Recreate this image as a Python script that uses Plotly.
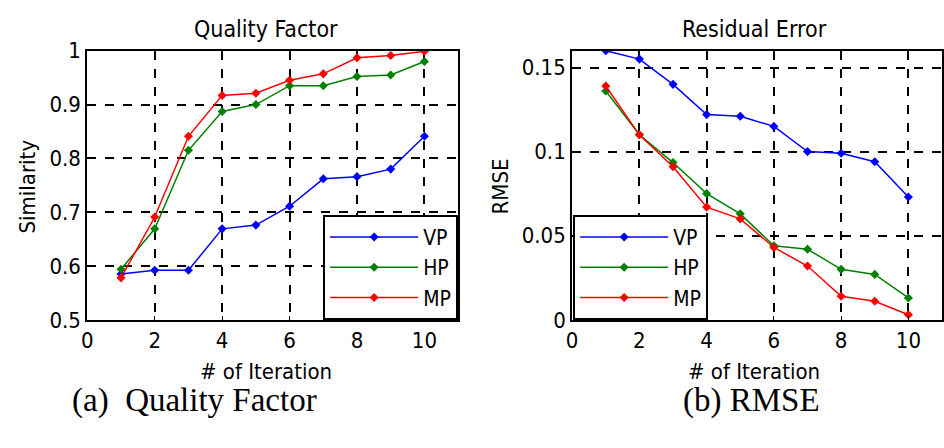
import plotly.graph_objects as go

iterations = [1, 2, 3, 4, 5, 6, 7, 8, 9, 10]
series_names = ["VP", "HP", "MP"]
series_colors = ["#0000FF", "#008000", "#FF0000"]

similarity_vp = [0.585, 0.592, 0.592, 0.669, 0.676, 0.711, 0.762, 0.766, 0.780, 0.841]
similarity_hp = [0.594, 0.669, 0.815, 0.887, 0.900, 0.935, 0.935, 0.952, 0.955, 0.980]
similarity_mp = [0.578, 0.691, 0.841, 0.917, 0.921, 0.945, 0.957, 0.987, 0.991, 0.999]

rmse_vp = [0.160, 0.155, 0.140, 0.122, 0.121, 0.115, 0.100, 0.099, 0.094, 0.073]
rmse_hp = [0.136, 0.110, 0.0935, 0.075, 0.063, 0.044, 0.042, 0.030, 0.027, 0.013]
rmse_mp = [0.139, 0.110, 0.091, 0.067, 0.060, 0.043, 0.032, 0.014, 0.011, 0.003]

x_ticks = [0, 2, 4, 6, 8, 10]
sim_ticks = [0.5, 0.6, 0.7, 0.8, 0.9, 1.0]
sim_tick_text = ["0.5", "0.6", "0.7", "0.8", "0.9", "1"]
rmse_ticks = [0, 0.05, 0.1, 0.15]
rmse_tick_text = ["0", "0.05", "0.1", "0.15"]

FONT = "DejaVu Sans Condensed, Liberation Sans Narrow, DejaVu Sans, sans-serif"
SERIF = "Liberation Serif, Times New Roman, serif"

fig = go.Figure()

for name, color, ys in zip(series_names, series_colors, [similarity_vp, similarity_hp, similarity_mp]):
    fig.add_trace(go.Scatter(x=iterations, y=ys, name=name, mode="lines+markers",
                             line=dict(color=color, width=1.5),
                             marker=dict(symbol="diamond", size=7, color=color),
                             xaxis="x", yaxis="y", legend="legend"))

for name, color, ys in zip(series_names, series_colors, [rmse_vp, rmse_hp, rmse_mp]):
    fig.add_trace(go.Scatter(x=iterations, y=ys, name=name, mode="lines+markers",
                             line=dict(color=color, width=1.5),
                             marker=dict(symbol="diamond", size=7, color=color),
                             xaxis="x2", yaxis="y2", legend="legend2"))

W, H = 944, 448
yd = [1 - 326 / H, 1 - 41 / H]

axis_common = dict(showline=True, linecolor="black", linewidth=2, mirror=True,
                   showgrid=True, gridcolor="black", griddash="dash", gridwidth=1.6,
                   zeroline=False, ticks="inside", ticklen=4, tickcolor="black",
                   tickfont=dict(family=FONT, size=22, color="black"))

legend_common = dict(y=1 - 326 / H, yanchor="bottom",
                     bgcolor="white", bordercolor="black", borderwidth=2,
                     font=dict(family=FONT, size=21, color="black"), itemwidth=88,
                     tracegroupgap=0)

fig.update_layout(
    width=W, height=H,
    margin=dict(l=0, r=0, t=0, b=0),
    paper_bgcolor="white", plot_bgcolor="white",
    showlegend=True,
    xaxis=dict(domain=[82 / W, 456 / W], range=[0, 11], tickvals=x_ticks, anchor="y", **axis_common),
    yaxis=dict(domain=yd, range=[0.5, 1.0], tickvals=sim_ticks, ticktext=sim_tick_text, anchor="x", **axis_common),
    xaxis2=dict(domain=[571 / W, 1.0], range=[0, 11], tickvals=x_ticks, anchor="y2", **axis_common),
    yaxis2=dict(domain=yd, range=[0, 0.16], tickvals=rmse_ticks, ticktext=rmse_tick_text, anchor="x2", **axis_common),
    legend=dict(x=456 / W, xanchor="right", **legend_common),
    legend2=dict(x=572 / W, xanchor="left", **legend_common),
)

def ann(text, x, y, size=22, family=FONT, angle=0):
    fig.add_annotation(text=text, x=x / W, y=1 - y / H, xref="paper", yref="paper",
                       showarrow=False, textangle=angle,
                       font=dict(family=family, size=size, color="black"),
                       xanchor="center", yanchor="middle")

ann("Quality Factor", 262, 18, size=23)
ann("Residual Error", 755, 18, size=23)
ann("Similarity", 22, 185, angle=-90)
ann("RMSE", 499, 185, angle=-90)
ann("# of Iteration", 262, 381)
ann("# of Iteration", 754, 381)
ann("(a)  Quality Factor", 190, 411, size=33, family=SERIF)
ann("(b) RMSE", 752, 411, size=33, family=SERIF)

fig.write_html("out.html")
